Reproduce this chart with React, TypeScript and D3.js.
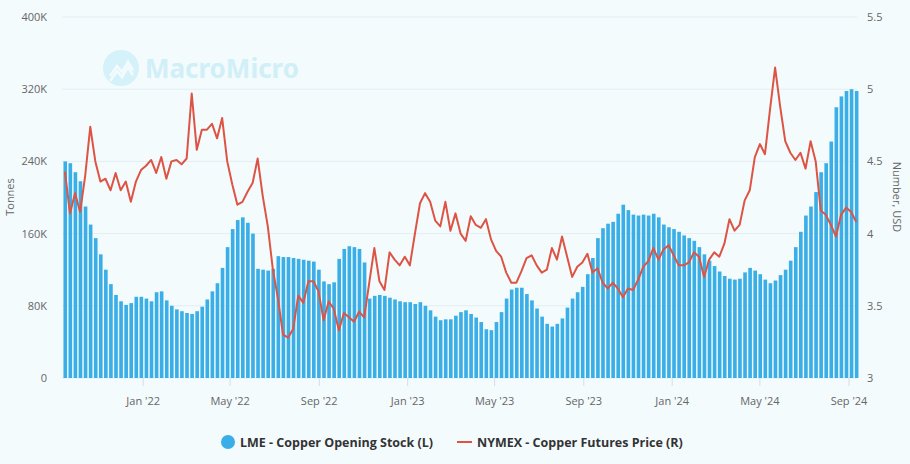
import React from "react";
import * as d3 from "d3";

// Weekly LME copper opening stock (thousand tonnes), weeks starting Mon 2021-09-13
const stockK: number[] = [
  240, 238, 228, 218, 190, 170, 155, 137, 120, 104,
  92, 85, 81, 83, 90, 90, 88, 85, 95, 96,
  86, 80, 76, 74, 72, 71, 74, 79, 87, 96,
  105, 122, 145, 165, 175, 178, 172, 160, 121, 120,
  119, 121, 135, 134, 134, 133, 132, 131, 130, 129,
  120, 107, 104, 106, 132, 143, 146, 145, 143, 128,
  88, 91, 92, 91, 89, 87, 85, 84, 84, 82,
  84, 80, 75, 68, 64, 65, 65, 69, 73, 75,
  71, 67, 62, 54, 53, 62, 73, 88, 98, 100,
  100, 93, 86, 77, 68, 60, 57, 60, 66, 78,
  88, 95, 101, 115, 133, 155, 166, 171, 173, 182,
  192, 186, 181, 180, 181, 180, 182, 178, 170, 167,
  165, 162, 158, 155, 152, 145, 137, 130, 124, 118,
  113, 110, 109, 110, 117, 122, 119, 115, 109, 105,
  108, 114, 120, 130, 145, 162, 180, 190, 206, 228,
  238, 262, 300, 312, 318, 320, 318,
];

// Weekly NYMEX copper futures price (USD/lb)
const priceUSD: number[] = [
  4.43, 4.14, 4.28, 4.15, 4.40, 4.74, 4.50, 4.36, 4.38, 4.30,
  4.42, 4.30, 4.36, 4.22, 4.36, 4.44, 4.47, 4.51, 4.42, 4.53,
  4.38, 4.50, 4.51, 4.48, 4.52, 4.97, 4.58, 4.72, 4.72, 4.76,
  4.66, 4.80, 4.50, 4.34, 4.20, 4.22, 4.29, 4.35, 4.52, 4.26,
  4.05, 3.75, 3.55, 3.30, 3.28, 3.34, 3.57, 3.52, 3.67, 3.67,
  3.60, 3.40, 3.53, 3.48, 3.33, 3.45, 3.42, 3.39, 3.46, 3.42,
  3.66, 3.90, 3.67, 3.61, 3.87, 3.82, 3.78, 3.84, 3.78, 4.00,
  4.21, 4.28, 4.22, 4.09, 4.05, 4.22, 4.02, 4.14, 4.00, 3.95,
  4.12, 4.06, 4.04, 4.10, 3.96, 3.88, 3.84, 3.73, 3.66, 3.66,
  3.74, 3.83, 3.85, 3.78, 3.73, 3.75, 3.90, 3.82, 3.98, 3.84,
  3.70, 3.77, 3.80, 3.86, 3.73, 3.76, 3.66, 3.62, 3.66, 3.62,
  3.56, 3.62, 3.61, 3.68, 3.77, 3.81, 3.90, 3.82, 3.89, 3.92,
  3.85, 3.78, 3.78, 3.80, 3.87, 3.84, 3.70, 3.82, 3.87, 3.84,
  3.93, 4.10, 4.02, 4.06, 4.23, 4.30, 4.53, 4.62, 4.55, 4.86,
  5.15, 4.88, 4.64, 4.56, 4.51, 4.56, 4.45, 4.64, 4.50, 4.16,
  4.13, 4.06, 3.98, 4.13, 4.18, 4.15, 4.08,
];

const leftTicks: number[] = [0, 80, 160, 240, 320, 400];
const leftTickLabels: string[] = ["0", "80K", "160K", "240K", "320K", "400K"];
const rightTicks: number[] = [3, 3.5, 4, 4.5, 5, 5.5];
const rightTickLabels: string[] = ["3", "3.5", "4", "4.5", "5", "5.5"];
const xTickDates: Date[] = [
  new Date(2022, 0, 1), new Date(2022, 4, 1), new Date(2022, 8, 1),
  new Date(2023, 0, 1), new Date(2023, 4, 1), new Date(2023, 8, 1),
  new Date(2024, 0, 1), new Date(2024, 4, 1), new Date(2024, 8, 1),
];
const xTickLabels: string[] = [
  "Jan '22", "May '22", "Sep '22", "Jan '23", "May '23", "Sep '23",
  "Jan '24", "May '24", "Sep '24",
];

const W = 910;
const H = 464;
const M = { left: 62, right: 857, top: 17, bottom: 378 };
const BAR = "#3aaee6";
const LINE = "#dd5444";
const FONT = "'Open Sans', 'Noto Sans', sans-serif";

export default function App() {
  const weeks = d3.timeMonday.range(new Date(2021, 8, 13), new Date(2024, 8, 10)).slice(0, stockK.length);

  const x = d3.scaleTime()
    .domain([new Date(2021, 8, 11), new Date(2024, 8, 12)])
    .range([M.left, M.right]);
  const yL = d3.scaleLinear().domain([0, 400]).range([M.bottom, M.top]);
  const yR = d3.scaleLinear().domain([3, 5.5]).range([M.bottom, M.top]);

  const line = d3.line<number>()
    .x((_, i) => x(d3.timeDay.offset(weeks[i], 2)))
    .y((d) => yR(d));

  return (
    <svg width={W} height={H} style={{ position: "absolute", left: 0, top: 0, background: "#f3fbfd" }} fontFamily={FONT}>
      <rect x={0} y={0} width={W} height={H} fill="#f3fbfd" />
      {/* gridlines */}
      {leftTicks.map((t) => (
        <line key={"g" + t} x1={M.left} x2={M.right} y1={yL(t)} y2={yL(t)} stroke="#e3edf2" strokeWidth={1} />
      ))}
      {/* watermark */}
      <g opacity={0.9}>
        <circle cx={121} cy={68} r={18} fill="#d2f1fa" />
        <path d="M110,76 L117,66 L122,72 L128,62 L133,70" fill="none" stroke="#f3fbfd" strokeWidth={2.5} />
        <path d="M110,81 L117,71 L122,77 L128,67 L133,75" fill="none" stroke="#f3fbfd" strokeWidth={2.5} />
        <text x={145} y={78} fontSize={26} fontWeight={700} fill="#cdeef7" fontFamily="'Noto Sans', sans-serif">MacroMicro</text>
      </g>
      {/* bars */}
      {stockK.map((v, i) => {
        const x0 = x(weeks[i]);
        const x1 = x(d3.timeDay.offset(weeks[i], 5));
        return <rect key={"b" + i} x={x0} y={yL(v)} width={x1 - x0} height={yL(0) - yL(v)} fill={BAR} />;
      })}
      {/* line */}
      <path d={line(priceUSD) || ""} fill="none" stroke={LINE} strokeWidth={2} strokeLinejoin="round" />
      {/* x ticks */}
      {xTickDates.map((d, i) => (
        <g key={"x" + i}>
          <line x1={x(d)} x2={x(d)} y1={M.bottom} y2={M.bottom + 8} stroke="#d6dee3" />
          <text x={x(d)} y={405} textAnchor="middle" fontSize={11} fill="#666">{xTickLabels[i]}</text>
        </g>
      ))}
      {/* left axis */}
      {leftTicks.map((t, i) => (
        <text key={"l" + t} x={47} y={yL(t) + 4} textAnchor="end" fontSize={11} fill="#666">{leftTickLabels[i]}</text>
      ))}
      <text transform={`translate(14,197) rotate(-90)`} textAnchor="middle" fontSize={11} fill="#666">Tonnes</text>
      {/* right axis */}
      {rightTicks.map((t, i) => (
        <text key={"r" + t} x={867} y={yR(t) + 4} textAnchor="start" fontSize={11} fill="#666">{rightTickLabels[i]}</text>
      ))}
      <text transform={`translate(893,197) rotate(90)`} textAnchor="middle" fontSize={11} fill="#666">Number, USD</text>
      {/* legend */}
      <circle cx={228} cy={442} r={7} fill={BAR} />
      <text x={240} y={446.5} fontSize={12.5} fontWeight={700} fill="#333">LME - Copper Opening Stock (L)</text>
      <line x1={457} x2={472} y1={442} y2={442} stroke={LINE} strokeWidth={2} />
      <text x={477} y={446.5} fontSize={12.5} fontWeight={700} fill="#333">NYMEX - Copper Futures Price (R)</text>
    </svg>
  );
}
